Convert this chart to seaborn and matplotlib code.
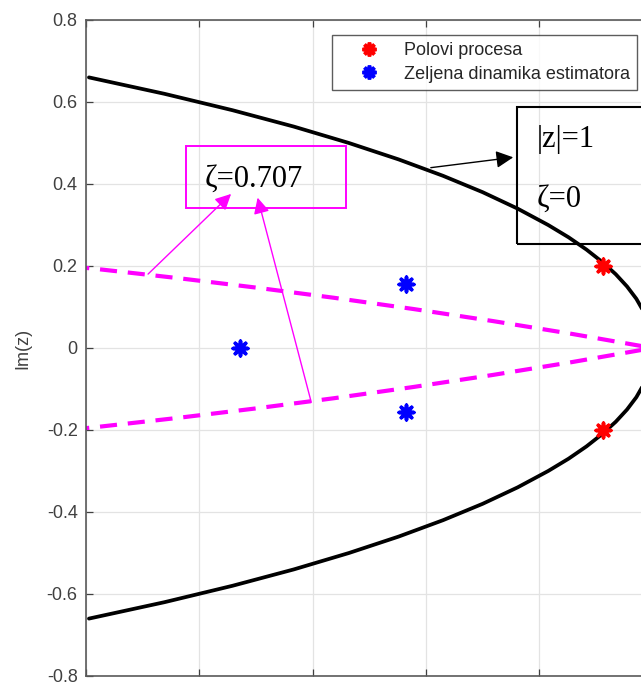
import pandas as pd
import matplotlib.pyplot as plt
import seaborn as sns
from matplotlib.patches import Rectangle
from matplotlib.lines import Line2D

# unit circle |z|=1 (top-left -> right -> bottom-left)
circle_x = [0.7513, 0.7846, 0.8146, 0.8417, 0.8660, 0.8879, 0.9075, 0.9250, 0.9404, 0.9539,
            0.9629, 0.9708, 0.9777, 0.9837, 0.9887, 0.9928, 0.9959, 0.9982, 0.9995, 1.0,
            0.9995, 0.9982, 0.9959, 0.9928, 0.9887, 0.9837, 0.9777, 0.9708, 0.9629,
            0.9539, 0.9404, 0.9250, 0.9075, 0.8879, 0.8660, 0.8417, 0.8146, 0.7846, 0.7513]
circle_y = [0.66, 0.62, 0.58, 0.54, 0.50, 0.46, 0.42, 0.38, 0.34, 0.30,
            0.27, 0.24, 0.21, 0.18, 0.15, 0.12, 0.09, 0.06, 0.03, 0.0,
            -0.03, -0.06, -0.09, -0.12, -0.15, -0.18, -0.21, -0.24, -0.27,
            -0.30, -0.34, -0.38, -0.42, -0.46, -0.50, -0.54, -0.58, -0.62, -0.66]

# zeta = 0.707 lines
zeta_up_x = [1.0, 0.9647, 0.9294, 0.8943, 0.8595, 0.8249, 0.7908, 0.7570, 0.7436]
zeta_up_y = [0.0, 0.0341, 0.0658, 0.0952, 0.1224, 0.1474, 0.1703, 0.1913, 0.1992]
zeta_dn_x = [1.0, 0.9647, 0.9294, 0.8943, 0.8595, 0.8249, 0.7908, 0.7570, 0.7436]
zeta_dn_y = [0.0, -0.0341, -0.0658, -0.0952, -0.1224, -0.1474, -0.1703, -0.1913, -0.1992]

# poles
labels = ['Polovi procesa', 'Zeljena dinamika estimatora']
pole_x = [0.978, 0.978]
pole_y = [0.2, -0.2]
est_x = [0.818, 0.891, 0.891]
est_y = [0.0, 0.156, -0.156]
yticks = [-0.8, -0.6, -0.4, -0.2, 0, 0.2, 0.4, 0.6, 0.8]
ytick_labels = ['-0.8', '-0.6', '-0.4', '-0.2', '0', '0.2', '0.4', '0.6', '0.8']
xticks = [0.75, 0.8, 0.85, 0.9, 0.95, 1.0, 1.05]

sns.set_style('whitegrid')
plt.rcParams['font.family'] = ['Liberation Sans', 'DejaVu Sans']
serif = ['Liberation Serif', 'DejaVu Serif']

fig = plt.figure(figsize=(6.41, 6.84), dpi=100)
ax = fig.add_axes([86 / 641, 8 / 684, 680 / 641, 656 / 684])

circ = pd.DataFrame({'x': circle_x, 'y': circle_y})
sns.lineplot(data=circ, x='x', y='y', sort=False, estimator=None, color='black', lw=2.7, ax=ax)
for zx, zy in [(zeta_up_x, zeta_up_y), (zeta_dn_x, zeta_dn_y)]:
    sns.lineplot(x=zx, y=zy, sort=False, estimator=None, color='#FF00FF', lw=3,
                 linestyle=(0, (4.1, 2.6)), ax=ax)

star = (8, 2, 0)
sns.scatterplot(x=pole_x, y=pole_y, marker=star, s=110, color='#FF0000',
                edgecolor='#FF0000', linewidth=2.6, ax=ax, zorder=5)
sns.scatterplot(x=est_x, y=est_y, marker=star, s=110, color='#0000FF',
                edgecolor='#0000FF', linewidth=2.6, ax=ax, zorder=5)

ax.set_xlim(0.75, 1.05)
ax.set_ylim(-0.8, 0.8)
ax.set_xticks(xticks)
ax.set_yticks(yticks)
ax.set_yticklabels(ytick_labels)
ax.set_xlabel('')
ax.set_ylabel('Im(z)', fontsize=13, color='#404040')
ax.yaxis.set_label_coords(-0.08, 0.5)
ax.grid(True, color='#e3e3e3', lw=0.9)
ax.tick_params(axis='both', direction='in', length=5, width=0.9, colors='#404040',
               labelsize=13, pad=6, top=True, bottom=True, left=True)
ax.tick_params(axis='x', labelbottom=False)
for side in ['left', 'top', 'bottom']:
    ax.spines[side].set_color('#5a5a5a')
    ax.spines[side].set_linewidth(1.2)
ax.spines['right'].set_visible(False)

# zeta = 0.707 annotation
ax.add_patch(Rectangle((0.7941, 0.3415), 0.0706, 0.1512, fill=False, ec='#FF00FF', lw=1.4, zorder=6))
ax.text(0.8025, 0.3927, 'ζ=0.707', fontsize=22, family=serif, color='black', zorder=7)
ax.annotate('', xy=(0.8149, 0.3805), xytext=(0.7765, 0.1756),
            arrowprops=dict(arrowstyle='-|>', color='#FF00FF', lw=1, mutation_scale=24))
ax.annotate('', xy=(0.8254, 0.3732), xytext=(0.8497, -0.139),
            arrowprops=dict(arrowstyle='-|>', color='#FF00FF', lw=1, mutation_scale=24))

# |z|=1 annotation
ax.add_patch(Rectangle((0.9401, 0.2537), 0.09, 0.3341, fill=False, ec='black', lw=1.5, zorder=6))
ax.text(0.949, 0.49, '|z|=1', fontsize=22, family=serif, color='black', zorder=7)
ax.text(0.949, 0.344, 'ζ=0', fontsize=22, family=serif, color='black', zorder=7)
ax.annotate('', xy=(0.9397, 0.4659), xytext=(0.9009, 0.439),
            arrowprops=dict(arrowstyle='-|>', color='black', lw=1, mutation_scale=26))

handles = [Line2D([], [], ls='none', marker=star, ms=10, mew=2.6, color='#FF0000'),
           Line2D([], [], ls='none', marker=star, ms=10, mew=2.6, color='#0000FF')]
leg = fig.legend(handles, labels, loc='upper left', bbox_to_anchor=(332 / 641, 1 - 35 / 684),
                 fontsize=13, frameon=True, fancybox=False, borderaxespad=0,
                 handlelength=3.3, handletextpad=0.3, borderpad=0.4, labelspacing=0.35)
leg.get_frame().set_edgecolor('#333333')
leg.get_frame().set_linewidth(1.0)
for t in leg.get_texts():
    t.set_color('#262626')

plt.savefig('out.png', dpi=100)
